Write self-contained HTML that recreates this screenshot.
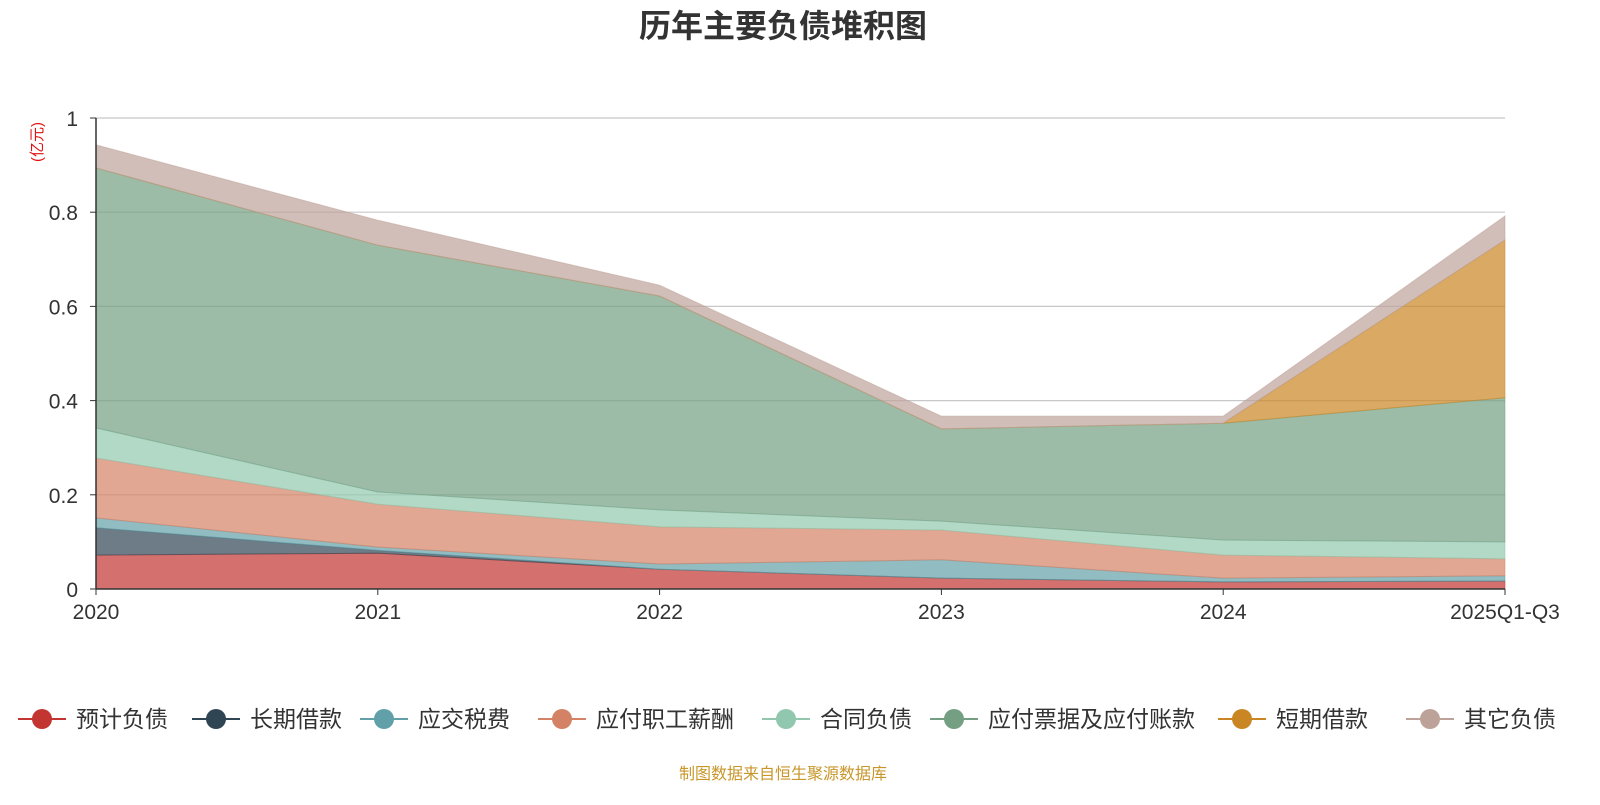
<!DOCTYPE html>
<html><head><meta charset="utf-8">
<style>
body{margin:0;width:1600px;height:800px;background:#fff;overflow:hidden;font-family:"Liberation Sans","Noto Sans CJK SC",sans-serif;}
</style></head>
<body>
<svg id="chart" width="1600" height="800" xmlns="http://www.w3.org/2000/svg" font-family="Liberation Sans, Noto Sans CJK SC, sans-serif">
<text x="783" y="37" text-anchor="middle" font-size="32" font-weight="bold" fill="#333">历年主要负债堆积图</text>
<text transform="translate(42,142) rotate(-90)" text-anchor="middle" font-size="15" fill="#e01010">(亿元)</text>
<g id="grid"></g>
<g id="areas"></g>
<g id="axes"></g>
<g id="legend"></g>
<text x="783" y="779" text-anchor="middle" font-size="16" fill="#c8962a">制图数据来自恒生聚源数据库</text>
</svg>
<script>
const categories=["2020","2021","2022","2023","2024","2025Q1-Q3"];
const seriesNames=["预计负债","长期借款","应交税费","应付职工薪酬","合同负债","应付票据及应付账款","短期借款","其它负债"];
const s0=[0.072,0.076,0.042,0.023,0.015,0.017];
const s1=[0.058,0.006,0,0,0,0];
const s2=[0.021,0.007,0.011,0.039,0.008,0.011];
const s3=[0.127,0.091,0.079,0.063,0.049,0.036];
const s4=[0.064,0.026,0.036,0.019,0.032,0.036];
const s5=[0.552,0.524,0.454,0.196,0.248,0.306];
const s6=[0,0,0,0,0,0.335];
const s7=[0.049,0.053,0.023,0.027,0.015,0.051];
const yTicks=[0,0.2,0.4,0.6,0.8,1];
const yTickLabels=["0","0.2","0.4","0.6","0.8","1"];
const colors=["#c23531","#2f4554","#61a0a8","#d48265","#91c7ae","#749f83","#ca8622","#bda29a"];
const NS="http://www.w3.org/2000/svg";
const X0=96,X1=1505,Y0=589,Y1=118;
const xs=i=>X0+(X1-X0)*i/(categories.length-1);
function yScale(v){return Y0-(Y0-Y1)*v;}
function mk(tag,attrs,parent){const e=document.createElementNS(NS,tag);for(const k in attrs)e.setAttribute(k,attrs[k]);parent.appendChild(e);return e;}
const grid=document.getElementById('grid'),areas=document.getElementById('areas'),axes=document.getElementById('axes'),legend=document.getElementById('legend');
yTicks.forEach((t,i)=>{
  if(t>0){const l=mk('line',{x1:X0,x2:X1,y1:yScale(t),y2:yScale(t),stroke:'#c8c8c8','stroke-width':1.2},grid);
  
  }
  const tx=mk('text',{x:X0-18,y:yScale(t)+8,'text-anchor':'end','font-size':21,fill:'#333'},axes);tx.textContent=yTickLabels[i];
  
  
  const tk=mk('line',{x1:X0-6,x2:X0,y1:yScale(t),y2:yScale(t),stroke:'#333'},axes);
  
  
});
const all=[s0,s1,s2,s3,s4,s5,s6,s7];
let base=categories.map(()=>0);
all.forEach((s,k)=>{
  const top=base.map((b,i)=>b+s[i]);
  let d='M'+categories.map((c,i)=>xs(i)+','+yScale(top[i])).join(' L');
  for(let i=categories.length-1;i>=0;i--)d+=' L'+xs(i)+','+yScale(base[i]);
  d+=' Z';
  const p=mk('path',{d:d,fill:colors[k],'fill-opacity':0.7,stroke:colors[k],'stroke-opacity':0.5,'stroke-width':1},areas);
  
  
  base=top;
});
const ya=mk('line',{x1:X0,x2:X0,y1:Y1,y2:Y0,stroke:'#333','stroke-width':1.5},axes);


const xa=mk('line',{x1:X0,x2:X1,y1:Y0,y2:Y0,stroke:'#333','stroke-width':1.5},axes);


categories.forEach((c,i)=>{
  const tk=mk('line',{x1:xs(i),x2:xs(i),y1:Y0,y2:Y0+6,stroke:'#333'},axes);
  
  
  const t=mk('text',{x:xs(i),y:Y0+30,'text-anchor':'middle','font-size':21,fill:'#333'},axes);t.textContent=c;
  
  
});
const lx=[42,216,384,562,786,954,1242,1430];
seriesNames.forEach((n,k)=>{
  const g=mk('g',{},legend);
  
  
  mk('line',{x1:lx[k]-24,x2:lx[k]+24,y1:719,y2:719,stroke:colors[k],'stroke-width':2},g);
  mk('circle',{cx:lx[k],cy:719,r:10,fill:colors[k]},g);
  const t=mk('text',{x:lx[k]+34,y:727,'font-size':23,fill:'#333'},g);t.textContent=n;
});
</script>
</body></html>
